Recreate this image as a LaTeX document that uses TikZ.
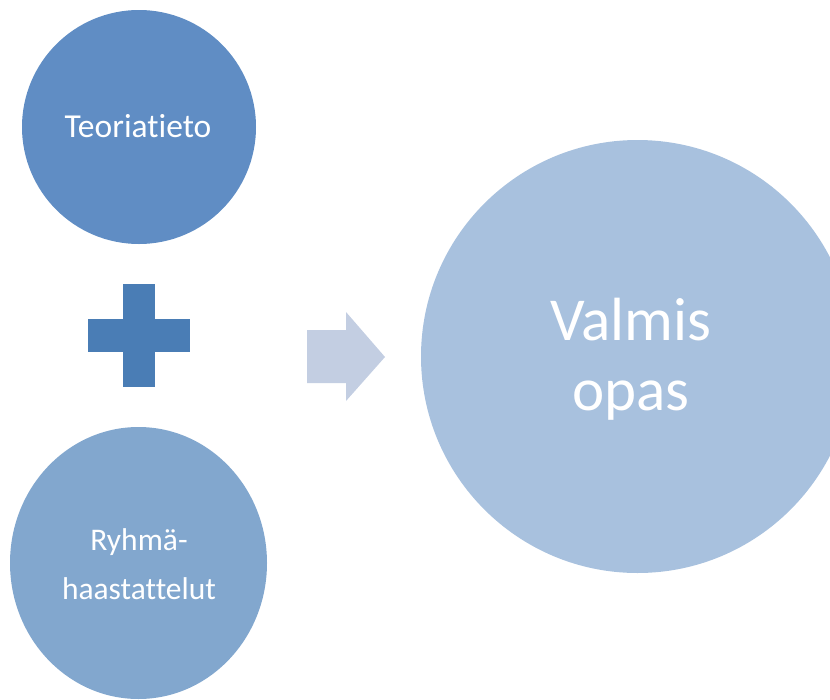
\documentclass[tikz,border=0pt]{standalone}
\usepackage{fontspec}
\setmainfont[Ligatures={NoCommon,NoContextual}]{Carlito}
\definecolor{cTop}{RGB}{96,141,196}
\definecolor{cPlus}{RGB}{74,125,181}
\definecolor{cBot}{RGB}{130,167,206}
\definecolor{cBig}{RGB}{168,193,222}
\definecolor{cArrow}{RGB}{195,206,226}
\tikzset{
  blob/.style={fill=#1, draw=none},
  lbl/.style={text=white, align=center, inner sep=0pt}
}
\begin{document}
\begin{tikzpicture}[x=1pt,y=-1pt]
\useasboundingbox (0,0) rectangle (830,699);
\clip (0,0) rectangle (830,699);
% circles
\fill[cTop] (139,127) circle [radius=117];
\node[lbl, font=\fontsize{33.5}{40}\selectfont, anchor=base] (teo) at (138,137) {Teoriatieto};
\fill[cBot] (138.5,563) ellipse [x radius=128.5, y radius=136];
\node[lbl, font=\fontsize{31.5}{49}\selectfont, anchor=base] (ryh) at (139,599) {Ryhmä-\\haastattelut};
\fill[cBig] (637.5,356.5) circle [radius=216.5];
\node[lbl, font=\fontsize{61}{70}\selectfont, anchor=base] (val) at (631,410) {Valmis\\opas};
% plus
\fill[cPlus] (88,319) rectangle (190,352);
\fill[cPlus] (123,284) rectangle (155,387);
% arrow
\fill[cArrow] (307,330) -- (346,330) -- (346,312) -- (385,357) -- (346,401) -- (346,383) -- (307,383) -- cycle;
\end{tikzpicture}
\end{document}
